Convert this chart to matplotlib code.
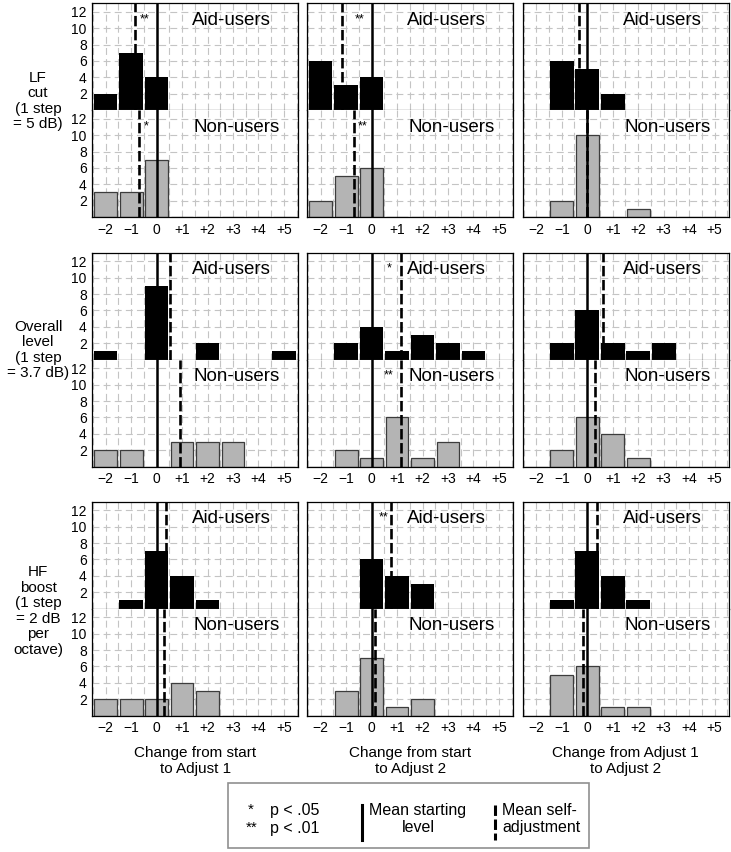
import numpy as np
import matplotlib
matplotlib.use('Agg')
import matplotlib.pyplot as plt
from matplotlib.patches import Rectangle
from matplotlib.lines import Line2D

plt.rcParams['font.family'] = ['Liberation Sans', 'DejaVu Sans']
plt.rcParams['lines.scale_dashes'] = False

steps = [-2, -1, 0, 1, 2, 3, 4, 5]
step_labels = ['\u22122', '\u22121', '0', '+1', '+2', '+3', '+4', '+5']

row_labels = ['LF\ncut\n(1 step\n= 5 dB)',
              'Overall\nlevel\n(1 step\n= 3.7 dB)',
              'HF\nboost\n(1 step\n= 2 dB\nper\noctave)']
col_labels = ['Change from start\nto Adjust 1',
              'Change from start\nto Adjust 2',
              'Change from Adjust 1\nto Adjust 2']

# counts of listeners per step, [row][col]
aid_counts = [
    [[2, 7, 4, 0, 0, 0, 0, 0], [6, 3, 4, 0, 0, 0, 0, 0], [0, 6, 5, 2, 0, 0, 0, 0]],
    [[1, 0, 9, 0, 2, 0, 0, 1], [0, 2, 4, 1, 3, 2, 1, 0], [0, 2, 6, 2, 1, 2, 0, 0]],
    [[0, 1, 7, 4, 1, 0, 0, 0], [0, 0, 6, 4, 3, 0, 0, 0], [0, 1, 7, 4, 1, 0, 0, 0]],
]
non_counts = [
    [[3, 3, 7, 0, 0, 0, 0, 0], [2, 5, 6, 0, 0, 0, 0, 0], [0, 2, 10, 0, 1, 0, 0, 0]],
    [[2, 2, 0, 3, 3, 3, 0, 0], [0, 2, 1, 6, 1, 3, 0, 0], [0, 2, 6, 4, 1, 0, 0, 0]],
    [[2, 2, 2, 4, 3, 0, 0, 0], [0, 3, 7, 1, 2, 0, 0, 0], [0, 5, 6, 1, 1, 0, 0, 0]],
]

# significance marks: (row, col, group, text, x offset from dashed mean, ha)
stars = [
    (0, 0, 'aid', '**', 0.2, 'left'),
    (0, 0, 'non', '*', 0.2, 'left'),
    (0, 1, 'aid', '**', 0.5, 'left'),
    (0, 1, 'non', '**', 0.17, 'left'),
    (1, 1, 'aid', '*', -0.35, 'right'),
    (1, 1, 'non', '**', -0.3, 'right'),
    (2, 1, 'aid', '**', -0.1, 'right'),
]

W, H = 731, 852
fig = plt.figure(figsize=(W / 100, H / 100), dpi=100)

col_left = [92.3, 307.3, 523.0]
col_w = 205.7
row_top = [3.0, 252.5, 501.5]
half = 107.0

dash = (0, (7.5, 2.6))
axes = {}
for r in range(3):
    for c in range(3):
        for g, counts, color, ec in [('aid', aid_counts, 'black', 'black'),
                                     ('non', non_counts, '#b4b4b4', '#3c3c3c')]:
            top = row_top[r] + (0 if g == 'aid' else half)
            ax = fig.add_axes([col_left[c] / W, 1 - (top + half) / H, col_w / W, half / H])
            axes[(r, c, g)] = ax
            ax.set_xlim(-2.52, 5.55)
            ax.set_ylim(0, 13.1)
            for gx in np.arange(-2.5, 5.6, 0.5):
                ax.axvline(gx, color='#c4c4c4', lw=0.8, ls=(0, (5, 3)), zorder=0)
            for gy in range(2, 13, 2):
                ax.axhline(gy, color='#c4c4c4', lw=0.8, ls=(0, (5, 3)), zorder=0)
            vals = counts[r][c]
            if g == 'aid':
                ax.bar(steps, vals, width=0.93, color=color, edgecolor='none', zorder=2)
            else:
                ax.bar(steps, vals, width=0.9, color=color, edgecolor=ec, lw=0.9, zorder=2)
            mean = np.average(steps, weights=vals)
            ax.axvline(0, color='black', lw=1.8, zorder=3)
            ax.axvline(mean, color='black', lw=1.9, ls=dash, zorder=3)
            ax.text(2.95 if g == 'aid' else 3.15, 11.0,
                    'Aid-users' if g == 'aid' else 'Non-users',
                    fontsize=13.5, ha='center', va='center', zorder=4)
            ax.set_yticks(range(2, 13, 2))
            ax.set_xticks(steps)
            ax.tick_params(length=0, labelsize=10, pad=4)
            if c == 0:
                ax.set_yticklabels([str(v) for v in range(2, 13, 2)])
            else:
                ax.set_yticklabels([])
            if g == 'non':
                ax.set_xticklabels(step_labels)
                ax.spines['top'].set_visible(False)
            else:
                ax.set_xticklabels([])
                ax.spines['bottom'].set_color('#444444')
            for s in ax.spines.values():
                s.set_linewidth(0.9)
            if g == 'non' and r == 2:
                ax.set_xlabel(col_labels[c], fontsize=11, labelpad=8)

for r, c, g, txt, off, ha in stars:
    ax = axes[(r, c, g)]
    counts = aid_counts if g == 'aid' else non_counts
    mean = np.average(steps, weights=counts[r][c])
    ax.text(mean + off, 11.1, txt, fontsize=9, ha=ha, va='center', zorder=4)

row_cy = [101, 350, 611]
for r in range(3):
    fig.text(38 / W, 1 - row_cy[r] / H, row_labels[r], fontsize=11, ha='center',
             va='center', linespacing=1.15)

# legend box
bx0, bx1, by0, by1 = 228, 589, 783, 848
fig.patches.append(Rectangle((bx0 / W, 1 - by1 / H), (bx1 - bx0) / W, (by1 - by0) / H,
                             transform=fig.transFigure, fill=False, edgecolor='#909090', lw=1.2))
fig.text(248 / W, 1 - 810 / H, '*', fontsize=11, ha='left', va='center')
fig.text(270 / W, 1 - 810 / H, 'p < .05', fontsize=11.5, ha='left', va='center')
fig.text(246 / W, 1 - 828 / H, '**', fontsize=11, ha='left', va='center')
fig.text(270 / W, 1 - 828 / H, 'p < .01', fontsize=11.5, ha='left', va='center')
fig.lines.append(Line2D([362 / W, 362 / W], [1 - 805 / H, 1 - 840 / H], transform=fig.transFigure,
                        color='black', lw=2.2))
fig.text(418 / W, 1 - 819 / H, 'Mean starting\nlevel', fontsize=11.5, ha='center', va='center',
         linespacing=1.15)
fig.lines.append(Line2D([495 / W, 495 / W], [1 - 805 / H, 1 - 840 / H], transform=fig.transFigure,
                        color='black', lw=2.2, ls=(0, (7.5, 2.6))))
fig.text(502 / W, 1 - 819 / H, 'Mean self-\nadjustment', fontsize=11.5, ha='left', va='center',
         linespacing=1.15)

fig.savefig('out.png', dpi=100)
